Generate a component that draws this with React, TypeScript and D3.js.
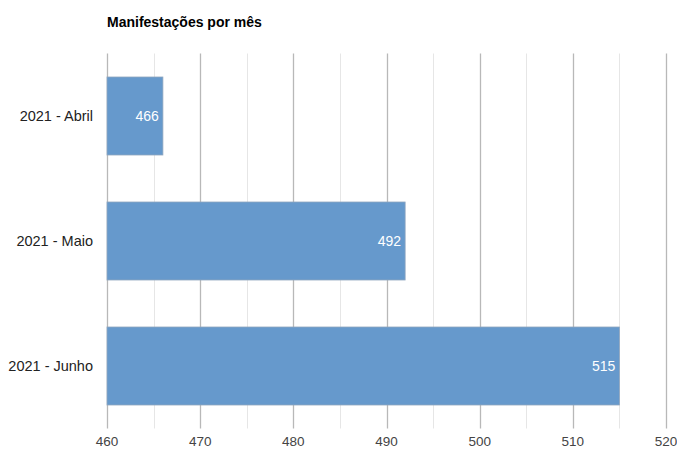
import React from "react";
import * as d3 from "d3";

const categories = ["2021 - Abril", "2021 - Maio", "2021 - Junho"];
const values = [466, 492, 515];
const majorTicks = [460, 470, 480, 490, 500, 510, 520];
const minorTicks = [465, 475, 485, 495, 505, 515];

export default function App() {
  const W = 677, H = 449;
  const left = 107, right = 666, top = 53.5, bottom = 428.5;
  const x = d3.scaleLinear().domain([460, 520]).range([left, right]);
  const y = d3.scaleBand().domain(categories).range([top, bottom]).paddingInner(0.376).paddingOuter(0.188);
  const font = "Arial, 'Liberation Sans', sans-serif";
  return (
    <div style={{ position: "absolute", left: 0, top: 0 }}>
      <svg width={W} height={H} style={{ display: "block" }}>
        <rect x={0} y={0} width={W} height={H} fill="#fff" />
        <text x={107} y={27} fontFamily={font} fontSize={14} fontWeight="bold" fill="#000">
          Manifestações por mês
        </text>
        {minorTicks.map((t) => (
          <line key={"m" + t} x1={Math.round(x(t)) + 0.5} x2={Math.round(x(t)) + 0.5} y1={top} y2={bottom} stroke="#e6e6e6" strokeWidth={1} />
        ))}
        {majorTicks.map((t) => (
          <line key={"M" + t} x1={Math.round(x(t)) + 0.5} x2={Math.round(x(t)) + 0.5} y1={top} y2={bottom} stroke="#b8b8b8" strokeWidth={1.3} />
        ))}
        {categories.map((c, i) => (
          <g key={c}>
            <rect
              x={x(460)}
              y={y(c)!}
              width={x(values[i]) - x(460)}
              height={y.bandwidth()}
              fill="#6699cc"
              stroke="#8fa6bf"
              strokeWidth={0.8}
            />
            <text
              x={x(values[i]) - 4}
              y={y(c)! + y.bandwidth() / 2}
              dy="0.35em"
              textAnchor="end"
              fontFamily={font}
              fontSize={14}
              fill="#fff"
            >
              {values[i]}
            </text>
            <text
              x={93}
              y={y(c)! + y.bandwidth() / 2}
              dy="0.35em"
              textAnchor="end"
              fontFamily={font}
              fontSize={14.5}
              fill="#222"
            >
              {c}
            </text>
          </g>
        ))}
        {majorTicks.map((t) => (
          <text key={"t" + t} x={x(t)} y={446} textAnchor="middle" fontFamily={font} fontSize={13.5} fill="#444">
            {t}
          </text>
        ))}
      </svg>
    </div>
  );
}
